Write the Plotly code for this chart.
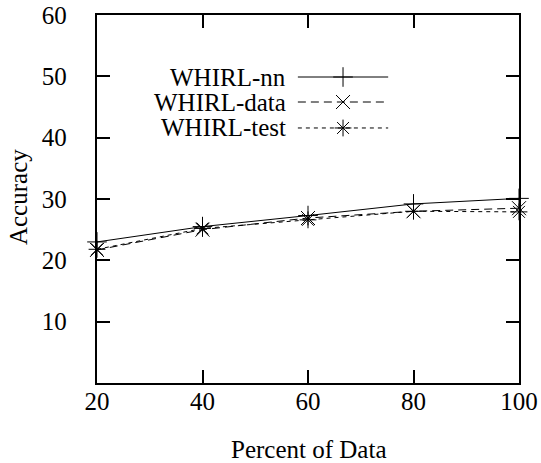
import plotly.graph_objects as go

percent = [20, 40, 60, 80, 100]
whirl_nn = [23.0, 25.5, 27.3, 29.2, 30.1]
whirl_data = [21.7, 25.0, 26.9, 28.0, 28.5]
whirl_test = [21.8, 25.2, 26.6, 28.0, 27.9]

series_names = ["WHIRL-nn", "WHIRL-data", "WHIRL-test"]
series_values = [whirl_nn, whirl_data, whirl_test]
dashes = ["solid", "8px,5px", "4px,4px"]
symbols = ["cross-thin", "x-thin", "asterisk"]
sizes = [14, 14, 14]

x_ticks = [20, 40, 60, 80, 100]
y_ticks = [10, 20, 30, 40, 50, 60]
x_title = "Percent of Data"
y_title = "Accuracy"

FONT = "Liberation Serif"
FS = 25

fig = go.Figure()
for name, vals, dash, sym, sz in zip(series_names, series_values, dashes, symbols, sizes):
    fig.add_trace(go.Scatter(
        x=percent, y=vals, mode="lines+markers", name=name,
        line=dict(color="black", width=1, dash=dash),
        marker=dict(symbol=sym, size=sz, color="black",
                    line=dict(color="black", width=1)),
        showlegend=False, cliponaxis=False,
    ))

# custom legend (sample to the right of the label), drawn on an overlay 0-1 axis
leg_rows = [0.8315, 0.7636, 0.693]
leg_x0, leg_x1 = 0.476, 0.690
for name, dash, sym, sz, ly in zip(series_names, dashes, symbols, sizes, leg_rows):
    fig.add_trace(go.Scatter(
        x=[leg_x0, leg_x1], y=[ly, ly], mode="lines", xaxis="x2", yaxis="y2",
        line=dict(color="black", width=1, dash=dash), showlegend=False, hoverinfo="skip",
    ))
    fig.add_trace(go.Scatter(
        x=[(leg_x0 + leg_x1) / 2], y=[ly], mode="markers", xaxis="x2", yaxis="y2",
        marker=dict(symbol=sym, size=sz, color="black", line=dict(color="black", width=1)),
        showlegend=False, hoverinfo="skip",
    ))
    fig.add_annotation(
        x=0.4526, y=ly, xref="x2", yref="y2", text=name, showarrow=False,
        xanchor="right", yanchor="middle", font=dict(family=FONT, size=FS, color="black"),
    )

# axis titles
fig.add_annotation(x=0.5, y=-0.18, xref="paper", yref="paper", text=x_title,
                   showarrow=False, xanchor="center", yanchor="middle",
                   font=dict(family=FONT, size=FS, color="black"))
fig.add_annotation(x=-0.1875, y=0.505, xref="paper", yref="paper", text=y_title,
                   showarrow=False, xanchor="center", yanchor="middle", textangle=-90,
                   font=dict(family=FONT, size=FS, color="black"))

axis_common = dict(
    showgrid=False, zeroline=False, showline=True, linecolor="black", linewidth=2,
    mirror="allticks", ticks="inside", ticklen=13, tickwidth=1.5, tickcolor="black",
    tickfont=dict(family=FONT, size=FS, color="black"), automargin=False,
)

fig.update_layout(
    width=541, height=463,
    margin=dict(l=97, r=22, t=15, b=80),
    paper_bgcolor="white", plot_bgcolor="white",
    font=dict(family=FONT, size=FS, color="black"),
    xaxis=dict(range=[20, 100], tickvals=x_ticks, ticktext=[str(v) for v in x_ticks],
               ticklabelstandoff=-5, **axis_common),
    yaxis=dict(range=[0, 60], tickvals=y_ticks, ticktext=[str(v) + "\u00a0" for v in y_ticks],
               ticklabelstandoff=17, **axis_common),
    xaxis2=dict(range=[0, 1], overlaying="x", visible=False, fixedrange=True),
    yaxis2=dict(range=[0, 1], overlaying="y", visible=False, fixedrange=True),
    showlegend=False,
)

fig.write_html(
    "out.html",
    config={"displayModeBar": False},
    post_script="document.body.style.margin='0';document.body.style.overflow='hidden';",
)
